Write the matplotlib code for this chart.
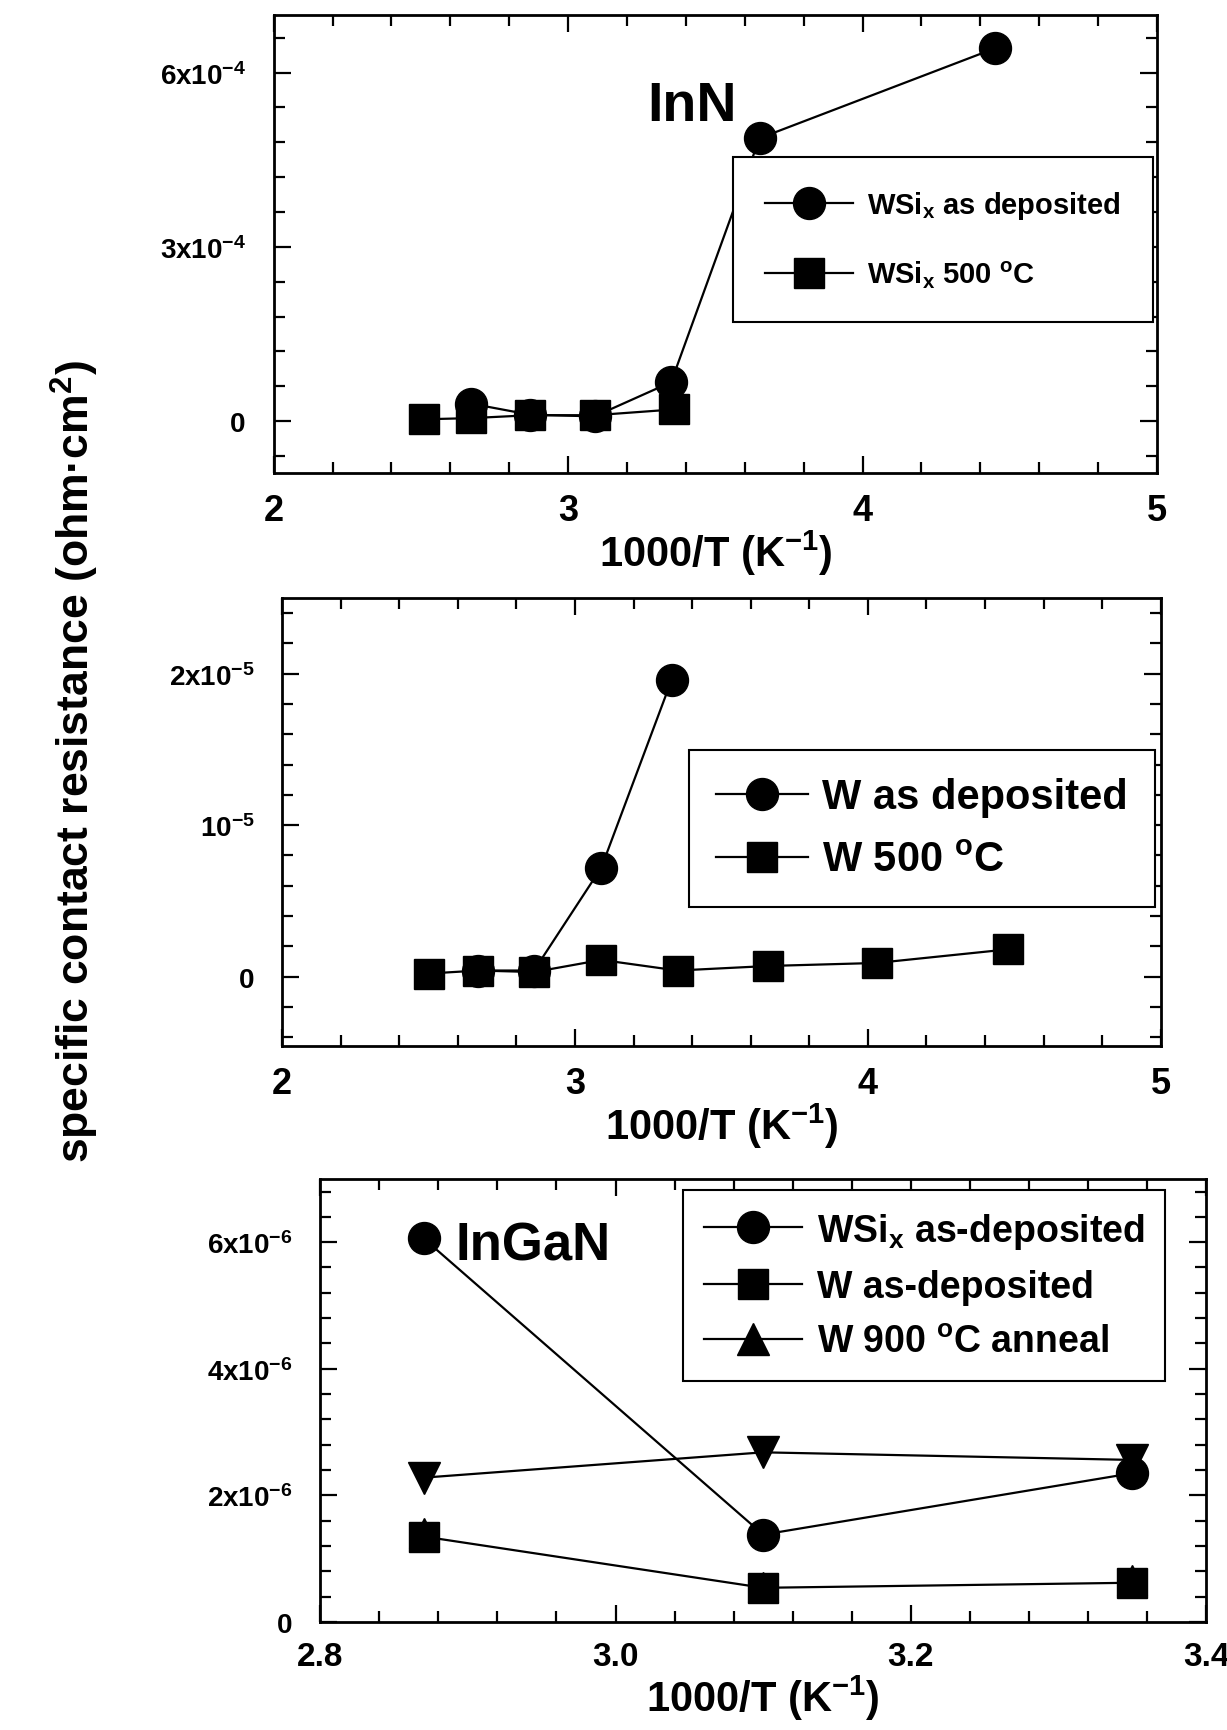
import matplotlib
matplotlib.use("Agg")
import matplotlib.pyplot as plt
from matplotlib.ticker import FixedLocator, MultipleLocator
from matplotlib.lines import Line2D

plt.rcParams['font.family'] = ['Liberation Sans', 'DejaVu Sans']
plt.rcParams['font.weight'] = 'bold'
plt.rcParams['axes.labelweight'] = 'bold'
plt.rcParams['mathtext.default'] = 'regular'

# InN panel
inn_x_dep = [2.67, 2.87, 3.09, 3.35, 3.65, 4.45]
inn_y_dep = [0.30e-4, 0.11e-4, 0.08e-4, 0.67e-4, 4.87e-4, 6.42e-4]
inn_x_500 = [2.51, 2.67, 2.87, 3.09, 3.36]
inn_y_500 = [0.03e-4, 0.05e-4, 0.10e-4, 0.10e-4, 0.20e-4]

# W panel
w_x_dep = [2.67, 2.86, 3.09, 3.33]
w_y_dep = [0.04e-5, 0.04e-5, 0.72e-5, 1.96e-5]
w_x_500 = [2.50, 2.67, 2.86, 3.09, 3.35, 3.66, 4.03, 4.48]
w_y_500 = [0.02e-5, 0.04e-5, 0.03e-5, 0.11e-5, 0.04e-5, 0.07e-5, 0.09e-5, 0.18e-5]

# InGaN panel
ingan_x = [2.87, 3.10, 3.35]
ingan_wsi_dep = [6.06e-6, 1.38e-6, 2.35e-6]
ingan_w_dep = [1.35e-6, 0.54e-6, 0.62e-6]
ingan_w_900 = [1.40e-6, 0.56e-6, 0.66e-6]
ingan_down = [2.28e-6, 2.68e-6, 2.56e-6]

ylab_inn = ["0", "3x10$^{-4}$", "6x10$^{-4}$"]
ylab_w = ["0", "10$^{-5}$", "2x10$^{-5}$"]
ylab_ingan = ["0", "2x10$^{-6}$", "4x10$^{-6}$", "6x10$^{-6}$"]

MS = 23
LW = 1.6


def style(ax, xt, yt, ylabels, xminor, yminor, ytick_size=20, xtick_size=26):
    for s in ax.spines.values():
        s.set_linewidth(2)
    ax.xaxis.set_major_locator(FixedLocator(xt))
    ax.yaxis.set_major_locator(FixedLocator(yt))
    ax.set_yticklabels(ylabels)
    ax.xaxis.set_minor_locator(MultipleLocator(xminor))
    ax.yaxis.set_minor_locator(MultipleLocator(yminor))
    ax.tick_params(which="both", direction="in", top=True, right=True, width=1.6)
    ax.tick_params(which="major", length=12)
    ax.tick_params(which="minor", length=8)
    ax.tick_params(axis="y", labelsize=ytick_size, pad=20)
    ax.tick_params(axis="x", labelsize=xtick_size, pad=14)
    ax.set_xlabel("1000/T (K$^{-1}$)", fontsize=30, labelpad=0)


def frame(leg):
    leg.get_frame().set_linewidth(1.5)


fig = plt.figure(figsize=(12.27, 17.31), dpi=100)

# ---- InN
ax1 = fig.add_axes([0.223, 0.726, 0.720, 0.265])
ax1.plot(inn_x_dep, inn_y_dep, "k-o", lw=LW, ms=MS, label="WSi$_{x}$ as deposited")
ax1.plot(inn_x_500, inn_y_500, "k-s", lw=LW, ms=MS - 2, label="WSi$_{x}$ 500 $^{o}$C")
ax1.set_xlim(2, 5)
ax1.set_ylim(-0.9e-4, 7.0e-4)
style(ax1, [2, 3, 4, 5], [0, 3e-4, 6e-4], ylab_inn, 0.2, 0.6e-4)
ax1.text(0.474, 0.80, "InN", transform=ax1.transAxes, fontsize=40,
         ha="center", va="center")
frame(ax1.legend(loc="upper left", bbox_to_anchor=(0.52, 0.69), fontsize=21,
                 handlelength=3, labelspacing=1.3, borderpad=1.1, fancybox=False,
                 edgecolor="black", framealpha=1, handletextpad=0.5,
                 borderaxespad=0))

# ---- W
ax2 = fig.add_axes([0.230, 0.395, 0.716, 0.259])
ax2.plot(w_x_dep, w_y_dep, "k-o", lw=LW, ms=MS, label="W as deposited")
ax2.plot(w_x_500, w_y_500, "k-s", lw=LW, ms=MS - 2, label="W 500 $^{o}$C")
ax2.set_xlim(2, 5)
ax2.set_ylim(-0.46e-5, 2.5e-5)
style(ax2, [2, 3, 4, 5], [0, 1e-5, 2e-5], ylab_w, 0.2, 0.2e-5)
frame(ax2.legend(loc="upper left", bbox_to_anchor=(0.463, 0.66), fontsize=30,
                 handlelength=2.2, labelspacing=0.55, borderpad=0.65, fancybox=False,
                 edgecolor="black", framealpha=1, handletextpad=0.35,
                 borderaxespad=0))

# ---- InGaN
ax3 = fig.add_axes([0.261, 0.0624, 0.722, 0.256])
ax3.plot(ingan_x, ingan_down, "k-v", lw=LW, ms=MS)
ax3.plot(ingan_x, ingan_wsi_dep, "k-o", lw=LW, ms=MS, label="WSi$_{x}$ as-deposited")
ax3.plot(ingan_x, ingan_w_dep, "k-s", lw=LW, ms=MS - 2, label="W as-deposited")
ax3.plot(ingan_x, ingan_w_900, "k^", lw=LW, ms=MS - 2, zorder=1)
ax3.set_xlim(2.8, 3.4)
ax3.set_ylim(0, 7e-6)
style(ax3, [2.8, 3.0, 3.2, 3.4], [0, 2e-6, 4e-6, 6e-6], ylab_ingan, 0.04, 0.4e-6,
      xtick_size=24)
ax3.set_xticklabels(["2.8", "3.0", "3.2", "3.4"])
ax3.text(0.24, 0.85, "InGaN", transform=ax3.transAxes, fontsize=38,
         ha="center", va="center")
handles = [
    Line2D([], [], color="k", lw=LW, marker="o", ms=MS),
    Line2D([], [], color="k", lw=LW, marker="s", ms=MS - 2),
    Line2D([], [], color="k", lw=LW, marker="^", ms=MS),
]
labels = ["WSi$_{x}$ as-deposited", "W as-deposited", "W 900 $^{o}$C anneal"]
frame(ax3.legend(handles, labels, loc="upper left", bbox_to_anchor=(0.41, 0.975),
                 fontsize=27, handlelength=2.6, labelspacing=0.5, borderpad=0.55,
                 fancybox=False, edgecolor="black", framealpha=1, handletextpad=0.4,
                 borderaxespad=0))

fig.text(0.061, 0.56, "specific contact resistance (ohm\u00b7cm$^{2}$)",
         rotation=90, ha="center", va="center", fontsize=32)

fig.savefig("out.png", dpi=100)
